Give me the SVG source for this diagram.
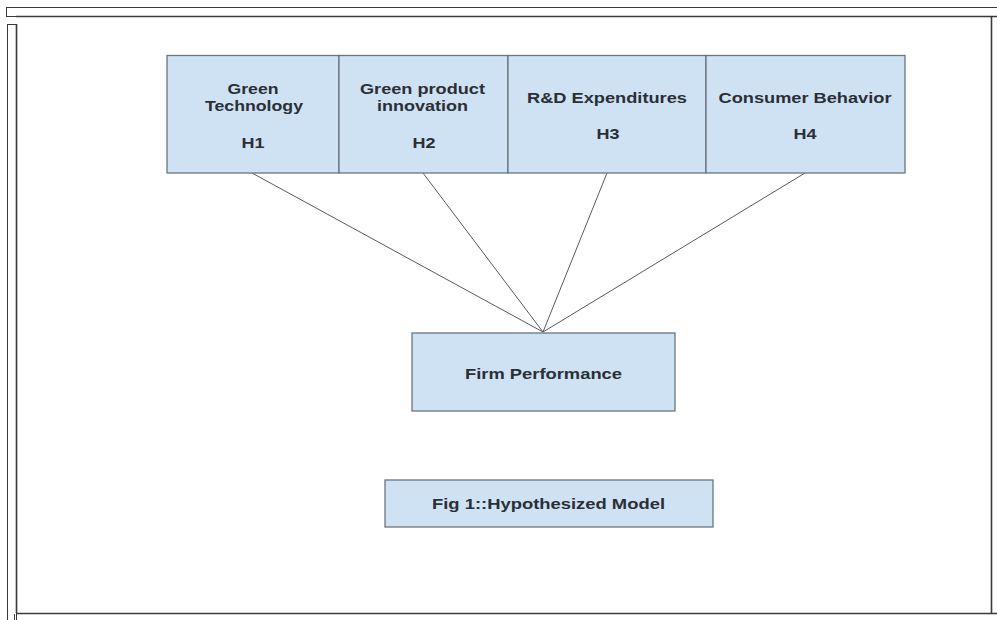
<svg xmlns="http://www.w3.org/2000/svg" width="997" height="620" viewBox="0 0 997 620">
<style>
.frame{fill:none;stroke:#3a3a3a;stroke-width:1}
.thick{fill:none;stroke:#3a3a3a;stroke-width:1.6}
.box{fill:#cfe2f3;stroke:#6b7580;stroke-width:1.3}
.lbl{font-family:"Liberation Sans",Arial,sans-serif;font-weight:bold;font-size:15px;fill:#2a2f36;text-anchor:middle}
.conn{stroke:#555a60;stroke-width:1;fill:none}
</style>
<rect x="0" y="0" width="997" height="620" fill="#ffffff"/>
<g id="frame">
<rect class="frame" x="6.5" y="7.5" width="995" height="9" fill="#ffffff"/>
<line class="thick" x1="16" y1="16.5" x2="997" y2="16.5"/>
<rect class="frame" x="7.5" y="24.5" width="9" height="600"/>
<line class="thick" x1="16.5" y1="24" x2="16.5" y2="613"/>
<line class="thick" x1="991.5" y1="16" x2="991.5" y2="614"/>
<line class="thick" x1="16" y1="613.5" x2="997" y2="613.5"/>
<line class="frame" x1="14.5" y1="614" x2="14.5" y2="620"/>
</g>
<g id="connectors">
<line class="conn" x1="252" y1="173" x2="543" y2="332"/>
<line class="conn" x1="423" y1="173" x2="543" y2="332"/>
<line class="conn" x1="607" y1="173" x2="543" y2="332"/>
<line class="conn" x1="805" y1="173" x2="543" y2="332"/>
</g>
<g id="green-technology">
<rect class="box" x="167" y="55.5" width="172" height="117.5"/>
<text class="lbl" x="253" y="93.5" textLength="51" lengthAdjust="spacingAndGlyphs">Green</text>
<text class="lbl" x="254" y="110.5" textLength="98" lengthAdjust="spacingAndGlyphs">Technology</text>
<text class="lbl" x="253" y="147.5" textLength="23" lengthAdjust="spacingAndGlyphs">H1</text>
</g>
<g id="green-product-innovation">
<rect class="box" x="339" y="55.5" width="169" height="117.5"/>
<text class="lbl" x="422.5" y="93.5" textLength="125" lengthAdjust="spacingAndGlyphs">Green product</text>
<text class="lbl" x="422.5" y="110.5" textLength="91" lengthAdjust="spacingAndGlyphs">innovation</text>
<text class="lbl" x="424" y="147.5" textLength="23" lengthAdjust="spacingAndGlyphs">H2</text>
</g>
<g id="rd-expenditures">
<rect class="box" x="508" y="55.5" width="198" height="117.5"/>
<text class="lbl" x="607" y="102.5" textLength="160" lengthAdjust="spacingAndGlyphs">R&amp;D Expenditures</text>
<text class="lbl" x="608" y="138.5" textLength="23" lengthAdjust="spacingAndGlyphs">H3</text>
</g>
<g id="consumer-behavior">
<rect class="box" x="706" y="55.5" width="199" height="117.5"/>
<text class="lbl" x="805" y="102.5" textLength="173" lengthAdjust="spacingAndGlyphs">Consumer Behavior</text>
<text class="lbl" x="805" y="138.5" textLength="23" lengthAdjust="spacingAndGlyphs">H4</text>
</g>
<g id="firm-performance">
<rect class="box" x="412" y="333" width="263" height="78"/>
<text class="lbl" x="543.5" y="378.5" textLength="157" lengthAdjust="spacingAndGlyphs">Firm Performance</text>
</g>
<g id="fig-caption">
<rect class="box" x="385" y="480" width="328" height="47"/>
<text class="lbl" x="548.5" y="508.5" textLength="233" lengthAdjust="spacingAndGlyphs">Fig 1::Hypothesized Model</text>
</g>
</svg>
